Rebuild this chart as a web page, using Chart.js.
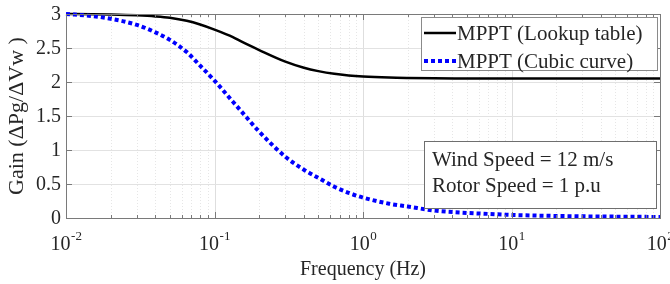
<!DOCTYPE html>
<html lang="en">
<head>
    <meta charset="UTF-8">
    <title>MPPT Gain</title>
    <script src="https://cdn.jsdelivr.net/npm/chart.js"></script>
    <style>
        body {
            margin: 0;
            padding: 0;
            background-color: #ffffff;
        }
    </style>
</head>
<body>
    <canvas id="gainChart" width="670" height="284"></canvas>

    <script>
        // frequency points (Hz)
        const freq = [0.01, 0.015, 0.02, 0.03, 0.04, 0.05, 0.065, 0.08, 0.1, 0.133, 0.15, 0.2, 0.3, 0.4, 0.5, 0.64, 0.8, 1, 1.5, 2, 3, 5, 7, 10, 20, 50, 100];
        const lookupGain = [3.0, 2.997, 2.992, 2.98, 2.965, 2.945, 2.9, 2.845, 2.77, 2.66, 2.6, 2.47, 2.3, 2.21, 2.16, 2.12, 2.097, 2.082, 2.066, 2.06, 2.055, 2.052, 2.05, 2.05, 2.05, 2.05, 2.05];
        const cubicGain = [3.0, 2.97, 2.93, 2.84, 2.73, 2.62, 2.44, 2.24, 2.02, 1.71, 1.58, 1.27, 0.90, 0.71, 0.59, 0.46, 0.37, 0.30, 0.21, 0.17, 0.11, 0.075, 0.06, 0.045, 0.03, 0.02, 0.015];

        const seriesNames = ["MPPT (Lookup table)", "MPPT (Cubic curve)"];
        const decades = [-2, -1, 0, 1, 2];
        const yTicks = [0, 0.5, 1, 1.5, 2, 2.5, 3];
        const infoLines = ["Wind Speed = 12 m/s", "Rotor Speed = 1 p.u"];
        const xTitle = "Frequency (Hz)";
        const yTitle = "Gain (\u0394Pg/\u0394Vw )";

        const FONT = "'Liberation Serif', 'Times New Roman', serif";
        const TEXT = "#262626";
        const AXIS = "#7a7a7a";

        // minor + major tick values for the log axis
        const xTickVals = [];
        decades.forEach(d => {
            for (let m = 1; m <= 9; m++) {
                if (d === decades[decades.length - 1] && m > 1) break;
                xTickVals.push(m * Math.pow(10, d));
            }
        });
        const isMajor = v => Math.abs(Math.log10(v) - Math.round(Math.log10(v))) < 1e-9;

        const toPoints = (vals) => freq.map((f, i) => ({ x: f, y: vals[i] }));

        const decorPlugin = {
            id: "decor",
            beforeDatasetsDraw(chart) {
                const ctx = chart.ctx;
                const a = chart.chartArea;
                const xs = chart.scales.x, ys = chart.scales.y;
                ctx.save();
                ctx.lineWidth = 1;
                // x grid
                xTickVals.forEach(v => {
                    const px = Math.round(xs.getPixelForValue(v)) + 0.5;
                    const major = isMajor(v);
                    ctx.beginPath();
                    ctx.strokeStyle = major ? "#dedede" : "#e6e6e6";
                    ctx.setLineDash(major ? [] : [1, 2]);
                    ctx.moveTo(px, a.top);
                    ctx.lineTo(px, a.bottom);
                    ctx.stroke();
                });
                // y grid
                ctx.setLineDash([]);
                ctx.strokeStyle = "#e2e2e2";
                yTicks.forEach(v => {
                    const py = Math.round(ys.getPixelForValue(v)) + 0.5;
                    ctx.beginPath();
                    ctx.moveTo(a.left, py);
                    ctx.lineTo(a.right, py);
                    ctx.stroke();
                });
                ctx.restore();
            },
            afterDatasetsDraw(chart) {
                const ctx = chart.ctx;
                const a = chart.chartArea;
                const xs = chart.scales.x, ys = chart.scales.y;
                ctx.save();

                // axis box
                ctx.strokeStyle = AXIS;
                ctx.lineWidth = 1;
                ctx.strokeRect(Math.round(a.left) + 0.5, Math.round(a.top) + 0.5,
                    Math.round(a.right - a.left), Math.round(a.bottom - a.top));

                // inward tick marks
                ctx.beginPath();
                xTickVals.forEach(v => {
                    const px = Math.round(xs.getPixelForValue(v)) + 0.5;
                    const len = isMajor(v) ? 6 : 3;
                    ctx.moveTo(px, a.bottom);
                    ctx.lineTo(px, a.bottom - len);
                    ctx.moveTo(px, a.top);
                    ctx.lineTo(px, a.top + len);
                });
                yTicks.forEach(v => {
                    const py = Math.round(ys.getPixelForValue(v)) + 0.5;
                    ctx.moveTo(a.left, py);
                    ctx.lineTo(a.left + 6, py);
                    ctx.moveTo(a.right, py);
                    ctx.lineTo(a.right - 6, py);
                });
                ctx.stroke();

                // y tick labels
                ctx.fillStyle = TEXT;
                ctx.font = "20px " + FONT;
                ctx.textAlign = "right";
                ctx.textBaseline = "middle";
                yTicks.forEach(v => {
                    ctx.fillText(String(v), a.left - 5, ys.getPixelForValue(v) + 1);
                });

                // x tick labels: 10 with superscript exponent
                ctx.textBaseline = "alphabetic";
                ctx.textAlign = "left";
                decades.forEach(d => {
                    const px = xs.getPixelForValue(Math.pow(10, d));
                    ctx.font = "20px " + FONT;
                    const wBase = ctx.measureText("10").width;
                    ctx.font = "13px " + FONT;
                    const exp = String(d);
                    const wExp = ctx.measureText(exp).width;
                    const x0 = px - (wBase + wExp) / 2;
                    ctx.font = "20px " + FONT;
                    ctx.fillText("10", x0, 250);
                    ctx.font = "13px " + FONT;
                    ctx.fillText(exp, x0 + wBase + 0.5, 240);
                });

                // axis titles
                ctx.font = "20px " + FONT;
                ctx.textAlign = "center";
                ctx.fillText(xTitle, (a.left + a.right) / 2, 275);
                ctx.save();
                ctx.font = "22px " + FONT;
                ctx.translate(23, (a.top + a.bottom) / 2);
                ctx.rotate(-Math.PI / 2);
                ctx.fillText(yTitle, 0, 0);
                ctx.restore();

                // legend box
                const lg = { x: 421.5, y: 17.5, w: 236, h: 53 };
                ctx.fillStyle = "#ffffff";
                ctx.fillRect(lg.x, lg.y, lg.w, lg.h);
                ctx.strokeStyle = "#8a8a8a";
                ctx.strokeRect(lg.x, lg.y, lg.w, lg.h);
                chart.data.datasets.forEach((ds, i) => {
                    const cy = 33 + i * 28;
                    ctx.beginPath();
                    ctx.strokeStyle = ds.borderColor;
                    ctx.lineWidth = ds.borderWidth;
                    ctx.setLineDash(ds.borderDash || []);
                    ctx.moveTo(424, cy);
                    ctx.lineTo(456, cy);
                    ctx.stroke();
                    ctx.setLineDash([]);
                    ctx.fillStyle = TEXT;
                    ctx.font = "21px " + FONT;
                    ctx.textAlign = "left";
                    ctx.textBaseline = "middle";
                    ctx.fillText(ds.label, 457, cy + 1);
                });

                // info box
                const ib = { x: 424.5, y: 141.5, w: 232, h: 67 };
                ctx.lineWidth = 1;
                ctx.fillStyle = "#ffffff";
                ctx.fillRect(ib.x, ib.y, ib.w, ib.h);
                ctx.strokeStyle = "#6e6e6e";
                ctx.strokeRect(ib.x, ib.y, ib.w, ib.h);
                ctx.fillStyle = TEXT;
                ctx.font = "21px " + FONT;
                ctx.textBaseline = "alphabetic";
                infoLines.forEach((t, i) => {
                    ctx.fillText(t, 432, 166 + i * 26);
                });

                ctx.restore();
            }
        };

        const ctx = document.getElementById("gainChart").getContext("2d");
        new Chart(ctx, {
            type: "line",
            data: {
                datasets: [{
                    label: seriesNames[0],
                    data: toPoints(lookupGain),
                    borderColor: "#000000",
                    borderWidth: 2.5,
                    pointRadius: 0,
                    cubicInterpolationMode: "monotone",
                    fill: false,
                    order: 1,
                    clip: 4
                }, {
                    label: seriesNames[1],
                    data: toPoints(cubicGain),
                    borderColor: "#0000ff",
                    borderWidth: 4,
                    borderDash: [4, 3],
                    borderCapStyle: "butt",
                    pointRadius: 0,
                    cubicInterpolationMode: "monotone",
                    fill: false,
                    order: 0,
                    clip: 4
                }]
            },
            options: {
                responsive: false,
                animation: false,
                layout: {
                    padding: { left: 66, right: 10, top: 14, bottom: 66 }
                },
                plugins: {
                    legend: { display: false },
                    tooltip: { enabled: false }
                },
                scales: {
                    x: {
                        type: "logarithmic",
                        min: 0.01,
                        max: 100,
                        display: false
                    },
                    y: {
                        type: "linear",
                        min: 0,
                        max: 3,
                        display: false
                    }
                }
            },
            plugins: [decorPlugin]
        });
    </script>
</body>
</html>
